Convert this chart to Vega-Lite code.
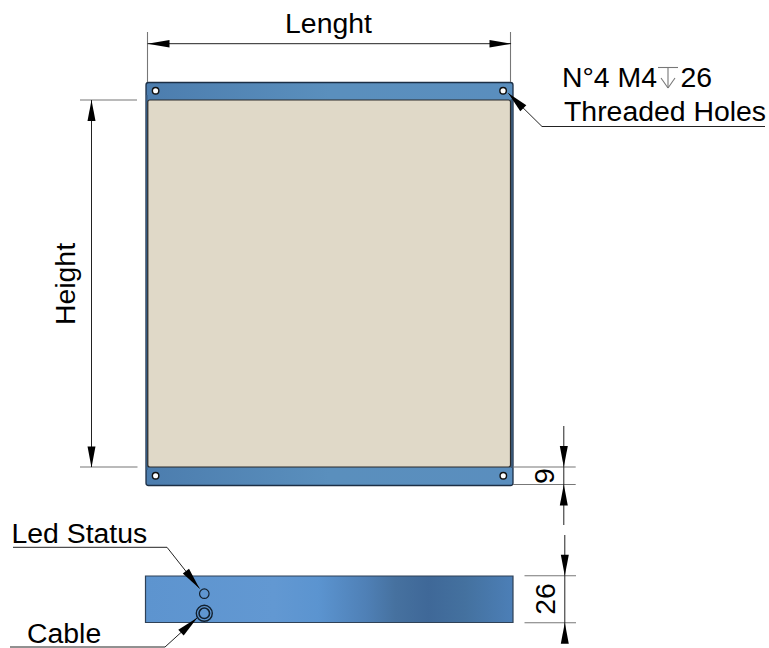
{
"$schema":"https://vega.github.io/schema/vega-lite/v6.json",
"width":769,"height":648,"padding":0,"autosize":{"type":"none"},
"background":"white",
"config":{"view":{"stroke":null}},
"datasets":{
"plate":[{"x":146,"x2":513,"y":82.5,"y2":485.5}],
"edgeR":[{"x":510.5,"x2":512.5,"y":99,"y2":468}],
"edgeL":[{"x":146.5,"x2":148,"y":95,"y2":470}],
"panel":[{"x":147.8,"x2":510.5,"y":100,"y2":467}],
"bar":[{"x":145.5,"x2":513,"y":576,"y2":622.5}],
"thin":[
{"x":147.5,"x2":511,"y":43.7,"y2":43.7},
{"x":91.5,"x2":91.5,"y":100,"y2":467},
{"x":563.8,"x2":563.8,"y":426,"y2":525},
{"x":564.8,"x2":564.8,"y":535,"y2":643},
{"x":542,"x2":765,"y":126.5,"y2":126.5},
{"x":542,"x2":508.3,"y":126.5,"y2":93.3},
{"x":13,"x2":167,"y":547.3,"y2":547.3},
{"x":167,"x2":199.5,"y":547.3,"y2":588.5},
{"x":10,"x2":165,"y":647,"y2":647},
{"x":165,"x2":197.3,"y":647,"y2":617.7}
],
"ext":[
{"x":147.5,"x2":147.5,"y":32,"y2":82},
{"x":510.5,"x2":510.5,"y":32,"y2":82},
{"x":80,"x2":137,"y":100,"y2":100},
{"x":80,"x2":137.5,"y":467,"y2":467},
{"x":513,"x2":575.7,"y":467,"y2":467},
{"x":513,"x2":575.7,"y":484.5,"y2":484.5},
{"x":524.5,"x2":576,"y":575.8,"y2":575.8},
{"x":524.5,"x2":576,"y":622.7,"y2":622.7},
{"x":658,"x2":678,"y":67.5,"y2":67.5},
{"x":668,"x2":668,"y":67.5,"y2":88},
{"x":661,"x2":668,"y":78,"y2":88},
{"x":675,"x2":668,"y":78,"y2":88}
],
"holes":[{"x":155.6,"y":90.8},{"x":503.1,"y":90.8},{"x":155.6,"y":475.7},{"x":503.3,"y":475.7}],
"led":[{"x":204.3,"y":593.7}],
"cable":[{"x":204.3,"y":613.3}],
"left":[{"x":147.5,"y":43.7}],
"right":[{"x":511.5,"y":43.7}],
"up":[{"x":91.5,"y":100},{"x":563.8,"y":484.5},{"x":564.8,"y":622.7}],
"down":[{"x":91.5,"y":467.5},{"x":563.8,"y":467},{"x":564.8,"y":575.8}],
"nw":[{"x":508.3,"y":93.3}],
"se":[{"x":199.5,"y":588.5}],
"ne":[{"x":197.3,"y":617.7}],
"labels":[
{"x":328.5,"y":33,"label":"Lenght","anchor":"middle"},
{"x":562,"y":87,"label":"N°4 M4","anchor":"start"},
{"x":680.5,"y":87,"label":"26","anchor":"start"},
{"x":564,"y":121,"label":"Threaded Holes","anchor":"start"},
{"x":11.5,"y":543,"label":"Led Status","anchor":"start"},
{"x":27,"y":642.7,"label":"Cable","anchor":"start"}
],
"rotated":[
{"x":75,"y":284,"label":"Height"},
{"x":554,"y":476,"label":"9"},
{"x":555,"y":599,"label":"26"}
]
},
"encoding":{
"x":{"field":"x","type":"quantitative","scale":{"domain":[0,769],"nice":false,"zero":false},"axis":null},
"y":{"field":"y","type":"quantitative","scale":{"domain":[648,0],"nice":false,"zero":false},"axis":null}
},
"layer":[
{"data":{"name":"plate"},"mark":{"type":"rect","cornerRadius":2.5,"stroke":"#1c2f45","strokeWidth":1.3,"fill":{"gradient":"linear","x1":0,"y1":0,"x2":1,"y2":0,"stops":[{"offset":0,"color":"#4c7dae"},{"offset":0.5,"color":"#5a8fbd"},{"offset":1,"color":"#5a8ebe"}]}},"encoding":{"x2":{"field":"x2"},"y2":{"field":"y2"}}},
{"data":{"name":"edgeR"},"mark":{"type":"rect","fill":"#3c5b7a"},"encoding":{"x2":{"field":"x2"},"y2":{"field":"y2"}}},
{"data":{"name":"edgeL"},"mark":{"type":"rect","fill":"#3f6a96"},"encoding":{"x2":{"field":"x2"},"y2":{"field":"y2"}}},
{"data":{"name":"panel"},"mark":{"type":"rect","cornerRadius":2,"stroke":"#2b2b2b","strokeWidth":1.2,"fill":"#e0d9c8"},"encoding":{"x2":{"field":"x2"},"y2":{"field":"y2"}}},
{"data":{"name":"bar"},"mark":{"type":"rect","stroke":"#2f4156","strokeWidth":1.2,"fill":{"gradient":"linear","x1":0,"y1":0,"x2":1,"y2":0,"stops":[{"offset":0,"color":"#5d94cf"},{"offset":0.35,"color":"#6298d2"},{"offset":0.47,"color":"#5b94d0"},{"offset":0.6,"color":"#4f80b6"},{"offset":0.68,"color":"#46719f"},{"offset":0.77,"color":"#3f6898"},{"offset":0.87,"color":"#44719f"},{"offset":1,"color":"#4c7fb7"}]}},"encoding":{"x2":{"field":"x2"},"y2":{"field":"y2"}}},
{"data":{"name":"ext"},"mark":{"type":"rule","stroke":"#777777","strokeWidth":1.1},"encoding":{"x2":{"field":"x2"},"y2":{"field":"y2"}}},
{"data":{"name":"thin"},"mark":{"type":"rule","stroke":"#222222","strokeWidth":1},"encoding":{"x2":{"field":"x2"},"y2":{"field":"y2"}}},
{"data":{"name":"holes"},"mark":{"type":"point","shape":"circle","filled":false,"fill":"white","fillOpacity":1,"opacity":1,"stroke":"#111111","strokeWidth":1.4,"size":42}},
{"data":{"name":"led"},"mark":{"type":"point","shape":"circle","filled":false,"opacity":1,"stroke":"#12202e","strokeWidth":1.2,"size":90}},
{"data":{"name":"cable"},"mark":{"type":"point","shape":"circle","filled":false,"opacity":1,"stroke":"#12202e","strokeWidth":1.4,"size":256}},
{"data":{"name":"cable"},"mark":{"type":"point","shape":"circle","filled":false,"opacity":1,"stroke":"#12202e","strokeWidth":1.6,"size":110}},
{"data":{"name":"left"},"mark":{"type":"point","shape":"M0,0L22,-3.8L22,3.8Z","size":4,"filled":true,"fill":"black","opacity":1,"strokeWidth":0}},
{"data":{"name":"right"},"mark":{"type":"point","shape":"M0,0L-22,-3.8L-22,3.8Z","size":4,"filled":true,"fill":"black","opacity":1,"strokeWidth":0}},
{"data":{"name":"up"},"mark":{"type":"point","shape":"M0,0L-4,21L4,21Z","size":4,"filled":true,"fill":"black","opacity":1,"strokeWidth":0}},
{"data":{"name":"down"},"mark":{"type":"point","shape":"M0,0L-4,-21L4,-21Z","size":4,"filled":true,"fill":"black","opacity":1,"strokeWidth":0}},
{"data":{"name":"nw"},"mark":{"type":"point","shape":"M0,0L18,12L12,18Z","size":4,"filled":true,"fill":"black","opacity":1,"strokeWidth":0}},
{"data":{"name":"se"},"mark":{"type":"point","shape":"M0,0L-10.5,-19.7L-16.7,-14.9Z","size":4,"filled":true,"fill":"black","opacity":1,"strokeWidth":0}},
{"data":{"name":"ne"},"mark":{"type":"point","shape":"M0,0L-13.6,17.7L-19,12Z","size":4,"filled":true,"fill":"black","opacity":1,"strokeWidth":0}},
{"data":{"name":"labels"},"transform":[{"filter":"datum.anchor==='start'"}],"mark":{"type":"text","align":"left","baseline":"alphabetic","font":"Liberation Sans","fontSize":28.4,"fill":"black"},"encoding":{"text":{"field":"label"}}},
{"data":{"name":"labels"},"transform":[{"filter":"datum.anchor==='middle'"}],"mark":{"type":"text","align":"center","baseline":"alphabetic","font":"Liberation Sans","fontSize":28.4,"fill":"black"},"encoding":{"text":{"field":"label"}}},
{"data":{"name":"rotated"},"mark":{"type":"text","align":"center","baseline":"alphabetic","angle":270,"font":"Liberation Sans","fontSize":28.4,"fill":"black"},"encoding":{"text":{"field":"label"}}}
]
}
